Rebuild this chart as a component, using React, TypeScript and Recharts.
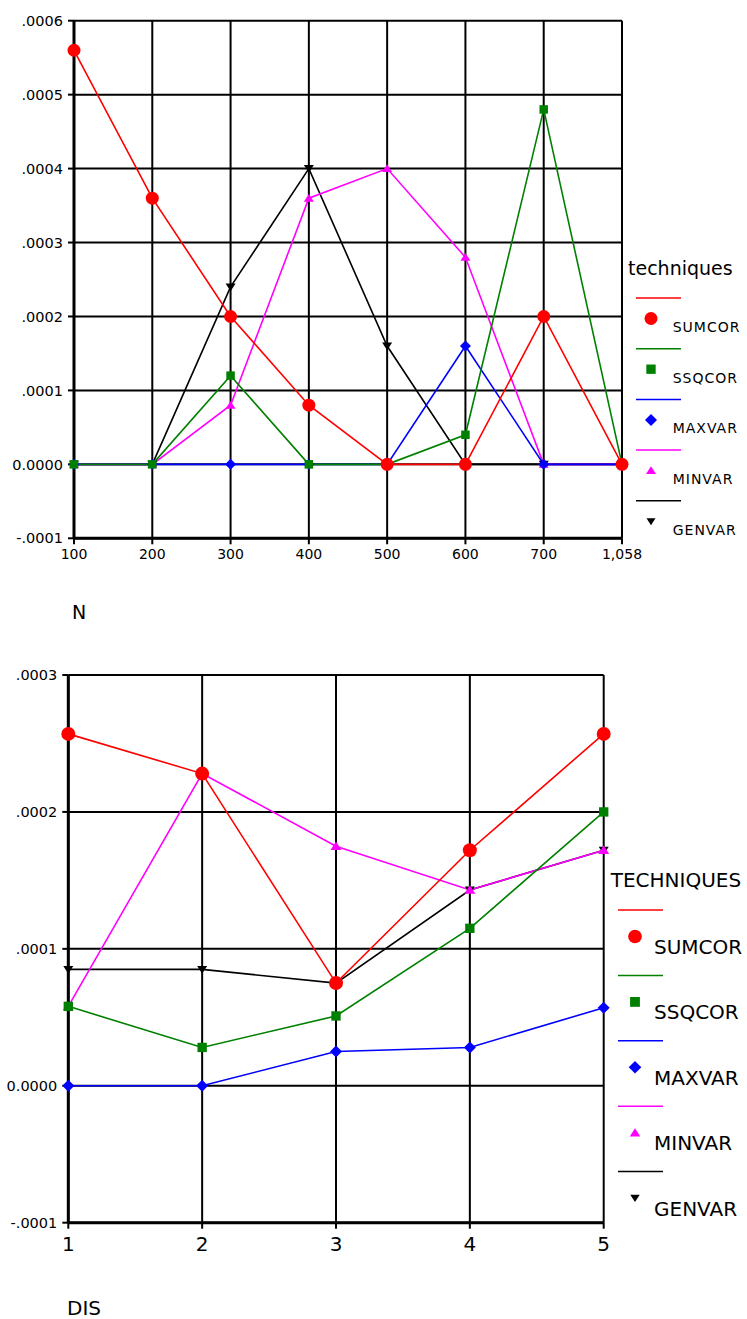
import React from 'react';
import { LineChart, Line, XAxis, YAxis, CartesianGrid } from 'recharts';

// chart 1: by N
const nCategories = ['100', '200', '300', '400', '500', '600', '700', '1,058'];
const nSumcor = [0.00056, 0.00036, 0.0002, 0.00008, 0, 0, 0.0002, 0];
const nSsqcor = [0, 0, 0.00012, 0, 0, 0.00004, 0.00048, 0];
const nMaxvar = [0, 0, 0, 0, 0, 0.00016, 0, 0];
const nMinvar = [0, 0, 0.00008, 0.00036, 0.0004, 0.00028, 0, 0];
const nGenvar = [0, 0, 0.00024, 0.0004, 0.00016, 0, 0, 0];
const nTicks = [-0.0001, 0, 0.0001, 0.0002, 0.0003, 0.0004, 0.0005, 0.0006];

// chart 2: by DIS
const disCategories = ['1', '2', '3', '4', '5'];
const disSumcor = [0.000257, 0.000228, 0.000075, 0.000172, 0.000257];
const disSsqcor = [0.000058, 0.000028, 0.000051, 0.000115, 0.0002];
const disMaxvar = [0, 0, 0.000025, 0.000028, 0.000057];
const disMinvar = [0.000058, 0.000228, 0.000175, 0.000143, 0.000172];
const disGenvar = [0.000085, 0.000085, 0.000075, 0.000143, 0.000172];
const disTicks = [-0.0001, 0, 0.0001, 0.0002, 0.0003];

const seriesNames = ['SUMCOR', 'SSQCOR', 'MAXVAR', 'MINVAR', 'GENVAR'];
const seriesColors = ['#ff0000', '#008000', '#0000ff', '#ff00ff', '#000000'];
const seriesShapes = ['circle', 'square', 'diamond', 'up', 'down'];
// draw order (last on top)
const drawOrder = [4, 3, 2, 1, 0];

const FONT = '"DejaVu Sans", Verdana, sans-serif';

const nData = nCategories.map((c, i) => ({
  cat: c,
  SUMCOR: nSumcor[i],
  SSQCOR: nSsqcor[i],
  MAXVAR: nMaxvar[i],
  MINVAR: nMinvar[i],
  GENVAR: nGenvar[i],
}));

const disData = disCategories.map((c, i) => ({
  cat: c,
  SUMCOR: disSumcor[i],
  SSQCOR: disSsqcor[i],
  MAXVAR: disMaxvar[i],
  MINVAR: disMinvar[i],
  GENVAR: disGenvar[i],
}));

const fmt = (v: number) => {
  if (Math.abs(v) < 1e-12) return '0.0000';
  const s = Math.abs(v).toFixed(4).slice(1);
  return (v < 0 ? '-' : '') + s;
};

function Marker({ kind, cx, cy, size, color }: { kind: string; cx: number; cy: number; size: number; color: string }) {
  const h = size / 2;
  if (kind === 'circle') return <circle cx={cx} cy={cy} r={h} fill={color} />;
  if (kind === 'square') return <rect x={cx - h * 0.85} y={cy - h * 0.85} width={size * 0.85} height={size * 0.85} fill={color} />;
  if (kind === 'diamond')
    return <polygon points={`${cx},${cy - h} ${cx + h},${cy} ${cx},${cy + h} ${cx - h},${cy}`} fill={color} />;
  if (kind === 'up')
    return <polygon points={`${cx},${cy - h * 0.85} ${cx + h},${cy + h * 0.7} ${cx - h},${cy + h * 0.7}`} fill={color} />;
  return <polygon points={`${cx},${cy + h * 0.85} ${cx + h},${cy - h * 0.7} ${cx - h},${cy - h * 0.7}`} fill={color} />;
}

function LegendBox(props: {
  title: string;
  titleX: number;
  titleY: number;
  titleSize: number;
  firstLineY: number;
  step: number;
  lineX1: number;
  lineX2: number;
  markerX: number;
  markerDy: number;
  markerScale: number;
  labelX: number;
  labelDy: number;
  labelSize: number;
  letterSpacing: number;
}) {
  const p = props;
  return (
    <svg width={747} height={1319} style={{ position: 'absolute', left: 0, top: 0, pointerEvents: 'none' }}>
      <text x={p.titleX} y={p.titleY} dominantBaseline="central" fontSize={p.titleSize} fontFamily={FONT} fill="#000">
        {p.title}
      </text>
      {seriesNames.map((name, i) => {
        const y = p.firstLineY + i * p.step;
        const sizes = [13, 11, 12, 10, 9];
        return (
          <g key={name}>
            <line x1={p.lineX1} x2={p.lineX2} y1={y} y2={y} stroke={seriesColors[i]} strokeWidth={1.5} />
            <Marker kind={seriesShapes[i]} cx={p.markerX} cy={y + p.markerDy} size={sizes[i] * p.markerScale} color={seriesColors[i]} />
            <text
              x={p.labelX}
              y={y + p.labelDy}
              dominantBaseline="central"
              fontSize={p.labelSize}
              fontFamily={FONT}
              letterSpacing={p.letterSpacing}
              fill="#000"
            >
              {name}
            </text>
          </g>
        );
      })}
    </svg>
  );
}

function renderLines(markerSizes: number[]) {
  return drawOrder.map((i) => {
    const name = seriesNames[i];
    return (
      <Line
        key={name}
        dataKey={name}
        stroke={seriesColors[i]}
        strokeWidth={1.6}
        isAnimationActive={false}
        activeDot={false}
        dot={(d: any) => (
          <Marker
            key={`${name}-${d.index}`}
            kind={seriesShapes[i]}
            cx={d.cx}
            cy={d.cy}
            size={markerSizes[i]}
            color={seriesColors[i]}
          />
        )}
      />
    );
  });
}

export default function App() {
  return (
    <div style={{ position: 'absolute', left: 0, top: 0, width: 747, height: 1319, background: '#fff', fontFamily: FONT }}>
      <div style={{ position: 'absolute', left: 0, top: 0 }}>
        <LineChart width={747} height={580} data={nData} margin={{ top: 20.7, right: 125, bottom: 0, left: 14 }}>
          <CartesianGrid stroke="#000" strokeWidth={2} />
          <XAxis
            dataKey="cat"
            interval={0}
            height={41.7}
            axisLine={{ stroke: '#000', strokeWidth: 3 }}
            tickLine={{ stroke: '#000', strokeWidth: 2 }}
            tickSize={6}
            tickMargin={5}
            tick={{ fill: '#000', fontSize: 14, fontFamily: FONT }}
          />
          <YAxis
            type="number"
            width={60}
            domain={[-0.0001, 0.0006]}
            ticks={nTicks}
            interval={0}
            allowDataOverflow
            tickFormatter={fmt}
            axisLine={{ stroke: '#000', strokeWidth: 3 }}
            tickLine={{ stroke: '#000', strokeWidth: 2 }}
            tickSize={6}
            tickMargin={5}
            tick={{ fill: '#000', fontSize: 14.5, fontFamily: FONT }}
          />
          {renderLines([13, 10, 11, 10, 10])}
        </LineChart>
      </div>
      <div style={{ position: 'absolute', left: 72, top: 600, fontSize: 19, lineHeight: '24px', color: '#000' }}>N</div>

      <div style={{ position: 'absolute', left: 0, top: 640 }}>
        <LineChart width={747} height={620} data={disData} margin={{ top: 35, right: 143.3, bottom: 0, left: 8.3 }}>
          <CartesianGrid stroke="#000" strokeWidth={2} />
          <XAxis
            dataKey="cat"
            interval={0}
            height={37.3}
            axisLine={{ stroke: '#000', strokeWidth: 3 }}
            tickLine={{ stroke: '#000', strokeWidth: 2 }}
            tickSize={6}
            tickMargin={8}
            tick={{ fill: '#000', fontSize: 20, fontFamily: FONT }}
          />
          <YAxis
            type="number"
            width={60}
            domain={[-0.0001, 0.0003]}
            ticks={disTicks}
            interval={0}
            allowDataOverflow
            tickFormatter={fmt}
            axisLine={{ stroke: '#000', strokeWidth: 3 }}
            tickLine={{ stroke: '#000', strokeWidth: 2 }}
            tickSize={6}
            tickMargin={5}
            tick={{ fill: '#000', fontSize: 14.5, fontFamily: FONT }}
          />
          {renderLines([14, 11, 12, 11, 10])}
        </LineChart>
      </div>
      <div style={{ position: 'absolute', left: 67, top: 1295, fontSize: 20, lineHeight: '26px', color: '#000' }}>DIS</div>

      <LegendBox
        title="techniques"
        titleX={628}
        titleY={268}
        titleSize={19}
        firstLineY={298}
        step={50.7}
        lineX1={636}
        lineX2={681}
        markerX={651}
        markerDy={20.5}
        markerScale={1}
        labelX={672.7}
        labelDy={29}
        labelSize={14}
        letterSpacing={1}
      />
      <LegendBox
        title="TECHNIQUES"
        titleX={610.7}
        titleY={880}
        titleSize={20}
        firstLineY={910}
        step={65.4}
        lineX1={618}
        lineX2={663}
        markerX={635}
        markerDy={26.5}
        markerScale={1.05}
        labelX={654}
        labelDy={37}
        labelSize={20}
        letterSpacing={0}
      />
    </div>
  );
}
